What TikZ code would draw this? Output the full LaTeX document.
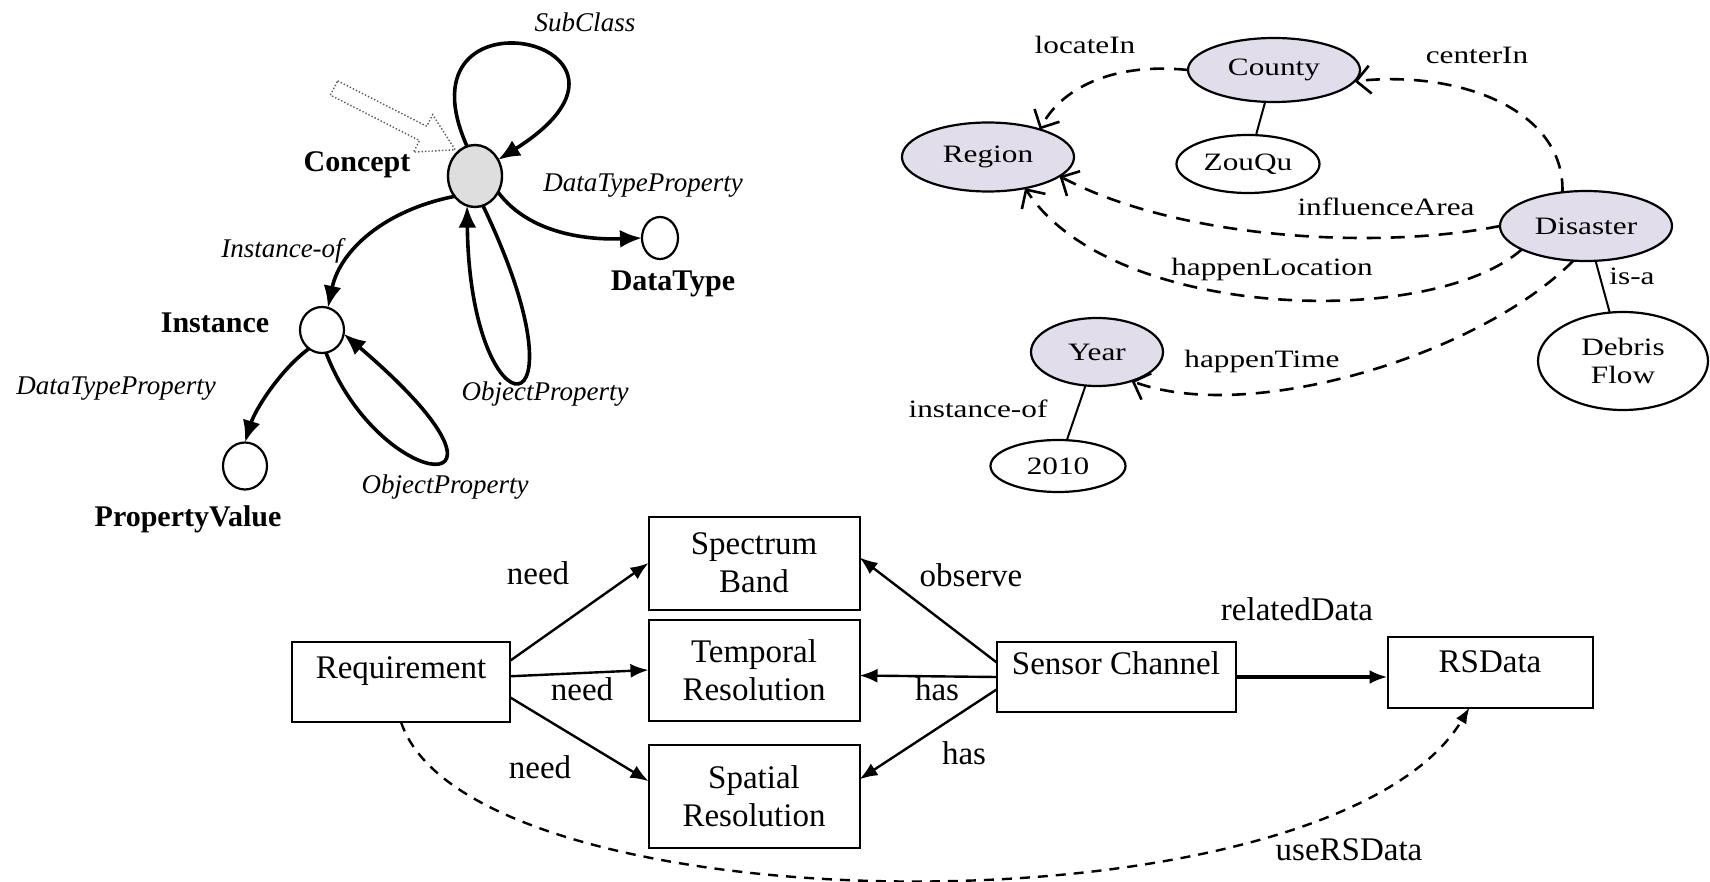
\documentclass[tikz,border=0pt]{standalone}
\usepackage{fontspec}
\setmainfont{Liberation Serif}
\newfontfamily\widefont[FakeStretch=1.25]{Liberation Serif}
\usetikzlibrary{shapes.geometric,arrows.meta}
\definecolor{lavender}{HTML}{E2DDEA}
\definecolor{conceptgray}{HTML}{DEDEDE}

\begin{document}
\begin{tikzpicture}[x=0.5pt,y=-0.5pt,
  every node/.style={inner sep=0pt, outer sep=0pt},
  plainlbl/.style={font=\fontsize{16.5}{19}\selectfont},
  boldlbl/.style={font=\fontsize{15}{17}\selectfont\bfseries},
  itlbl/.style={font=\fontsize{13.5}{16}\selectfont\itshape},
  widelbl/.style={font=\widefont\fontsize{12.5}{14}\selectfont},
  dot/.style={draw, line width=1.1pt, ellipse, fill=white},
  onto/.style={draw, line width=1.1pt, ellipse, align=center, widelbl},
  classnode/.style={onto, fill=lavender},
  instnode/.style={onto, fill=white},
  rel/.style={line width=1.8pt, -{Latex[length=11pt,width=9pt]}},
  dashrel/.style={line width=1.3pt, dash pattern=on 7pt off 5pt, -{Straight Barb[length=7pt,width=14pt]}},
  link/.style={line width=1pt},
  box/.style={draw, line width=1pt, rectangle, align=center, plainlbl},
  flow/.style={line width=1.2pt, -{Latex[length=9pt,width=7pt]}},
]
\useasboundingbox (0,0) rectangle (1710,882);

% ---------- ontology meta-model ----------
\node[dot, fill=conceptgray, line width=1.2pt, minimum width=27pt, minimum height=31pt] (concept) at (475,176) {};
\node[dot, minimum width=18pt, minimum height=21pt] (dtype) at (660,238) {};
\node[dot, minimum width=22pt, minimum height=23pt] (inst) at (322,330) {};
\node[dot, minimum width=22pt, minimum height=23.5pt] (pval) at (245,466) {};

% hollow dotted pointer towards the concept
\begin{scope}[shift={(334,88)}, rotate=-27]
  \draw[gray!70!black, densely dotted, line width=0.7pt]
    (0,-8) -- (100,-8) -- (100,-21) -- (136,0) -- (100,21) -- (100,8) -- (0,8) -- cycle;
\end{scope}

\node[itlbl] (lsub) at (585,22) {SubClass};
\node[boldlbl] (lconcept) at (357,165) {Concept};
\node[itlbl] (ldtp1) at (643,186) {DataTypeProperty};
\node[boldlbl] (ldtype) at (673,284) {DataType};
\node[itlbl] (linstof) at (282,251) {Instance-of};
\node[boldlbl] (linst) at (215,323) {Instance};
\node[itlbl] (ldtp2) at (116,389) {DataTypeProperty};
\node[itlbl] (lobj1) at (545,394) {ObjectProperty};
\node[itlbl] (lobj2) at (445,487) {ObjectProperty};
\node[boldlbl] (lpval) at (188,519) {PropertyValue};

\draw[rel] (concept.105) .. controls (392,-22) and (685,42) .. (concept.35);
\draw[rel] (concept.-35) .. controls (530,235) and (590,240) .. (dtype.west);
\draw[rel] (concept.225) .. controls (385,210) and (340,250) .. (inst.75);
\draw[rel] (concept.-75) .. controls (595,440) and (470,440) .. (concept.-105);
\draw[rel] (inst.235) .. controls (280,370) and (255,410) .. (pval.north);
\draw[rel] (inst.-80) .. controls (380,495) and (550,510) .. (inst.-10);

% ---------- disaster ontology ----------
\node[classnode, minimum width=86pt, minimum height=34.5pt] (region) at (988,157) {Region};
\node[classnode, minimum width=86pt, minimum height=32pt] (county) at (1274,70) {County};
\node[instnode, minimum width=71.5pt, minimum height=29pt] (zouqu) at (1248,164) {ZouQu};
\node[classnode, minimum width=86pt, minimum height=35pt] (disaster) at (1586,226) {Disaster};
\node[instnode, minimum width=85pt, minimum height=49pt] (debris) at (1623,361) {Debris\\Flow};
\node[classnode, minimum width=66pt, minimum height=34pt] (year) at (1097,352) {Year};
\node[instnode, minimum width=67.5pt, minimum height=26pt] (y2010) at (1058,466) {2010};

\node[widelbl] (llocate) at (1085,45) {locateIn};
\node[widelbl] (lcenter) at (1477,55) {centerIn};
\node[widelbl] (linfl) at (1386,207) {influenceArea};
\node[widelbl] (lhloc) at (1272,269) {happenLocation};
\node[widelbl] (lisa) at (1632,276) {is-a};
\node[widelbl] (lhtime) at (1262,361) {happenTime};
\node[widelbl] (linstance) at (978,409) {instance-of};

\draw[link] (county) -- (zouqu);
\draw[link] (disaster) -- (debris);
\draw[link] (year) -- (y2010);

\draw[dashrel] (county.west) .. controls (1110,62) and (1060,90) .. (region.28);
\draw[dashrel] (disaster.125) .. controls (1565,110) and (1460,70) .. (county.-8);
\draw[dashrel] (disaster.west) .. controls (1380,250) and (1180,240) .. (region.-15);
\draw[dashrel] (disaster.200) .. controls (1430,330) and (1110,320) .. (region.-40);
\draw[dashrel] (disaster.250) .. controls (1480,355) and (1250,425) .. (year.-40);

% ---------- remote sensing data model ----------
\node[box, minimum width=105.5pt, minimum height=46.5pt] (spec) at (754,563) {Spectrum\\Band};
\node[box, minimum width=105.5pt, minimum height=50.5pt] (temp) at (754,670) {Temporal\\Resolution};
\node[box, minimum width=105.5pt, minimum height=51.5pt] (spat) at (754,796) {Spatial\\Resolution};
\node[box, minimum width=109pt, minimum height=40pt, text height=12pt, text depth=16pt] (req) at (401,682) {Requirement};
\node[box, minimum width=119.5pt, minimum height=35pt, text height=12pt, text depth=15pt] (sensor) at (1116,677) {Sensor Channel};
\node[box, minimum width=102.5pt, minimum height=35.5pt, text height=12pt, text depth=12pt] (rsdata) at (1490,672) {RSData};

\node[plainlbl] (lneed1) at (538,573) {need};
\node[plainlbl] (lneed2) at (582,689) {need};
\node[plainlbl] (lneed3) at (540,767) {need};
\node[plainlbl] (lobserve) at (971,575) {observe};
\node[plainlbl] (lhas1) at (937,689) {has};
\node[plainlbl] (lhas2) at (964,753) {has};
\node[plainlbl] (lrelated) at (1297,609) {relatedData};
\node[plainlbl] (luse) at (1349,850) {useRSData};

\draw[flow] (req.11) -- (spec.west);
\draw[flow] (req.3) -- (temp.west);
\draw[flow] (req.-8) -- (spat.172);
\draw[flow] (sensor.173) -- (spec.3);
\draw[flow] (sensor.west) -- (temp.-3);
\draw[flow] (sensor.186) -- (spat.9);
\draw[flow, line width=1.7pt] (sensor.east) -- (sensor.east -| rsdata.west);
\draw[line width=1.2pt, dash pattern=on 5pt off 4pt, -{Latex[length=8pt,width=6pt]}]
  (req.south) .. controls (470,930) and (1330,940) .. (rsdata.-120);
\end{tikzpicture}
\end{document}
